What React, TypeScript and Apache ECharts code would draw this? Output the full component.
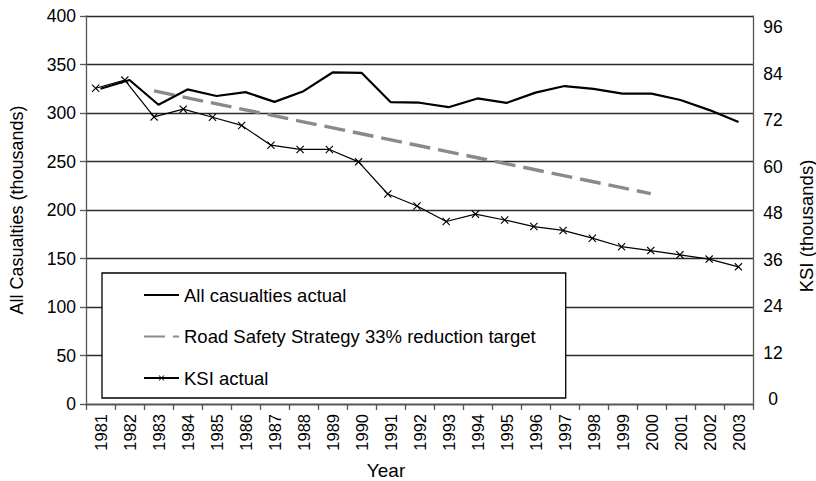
import React, { useEffect, useRef } from "react";
import * as echarts from "echarts";

const years = [
  "1981", "1982", "1983", "1984", "1985", "1986", "1987", "1988", "1989", "1990",
  "1991", "1992", "1993", "1994", "1995", "1996", "1997", "1998", "1999", "2000",
  "2001", "2002", "2003",
];

// All casualties (thousands) - left axis
const allCasualties = [
  325, 334, 308.5, 324.3, 317.5, 321.5, 311.5, 322.5, 341.8, 341.4,
  311.3, 310.6, 306, 315, 310.4, 321, 327.8, 324.8, 320, 320,
  313.4, 303, 290.7,
];

// KSI actual (thousands) - right axis
const ksiActual = [
  80.2, 82.3, 72.8, 74.8, 72.7, 70.6, 65.5, 64.4, 64.4, 61.2,
  52.9, 49.8, 45.8, 47.7, 46.2, 44.5, 43.5, 41.5, 39.3, 38.3,
  37.2, 36.1, 34.1,
];

// Road Safety Strategy 33% reduction target (thousands) - right axis
const target = [
  null, null, 79.5, null, null, null, null, null, null, null,
  null, null, null, null, null, null, null, null, null, 53.0,
  null, null, null,
];

const leftTicks = [0, 50, 100, 150, 200, 250, 300, 350, 400];
const rightTicks = [0, 12, 24, 36, 48, 60, 72, 84, 96];

const seriesNames = [
  "All casualties actual",
  "Road Safety Strategy 33% reduction target",
  "KSI actual",
];

const FONT = "'Liberation Sans', Arial, Helvetica, sans-serif";
const X_SYMBOL =
  "path://M0,1L1,0L5,4L9,0L10,1L6,5L10,9L9,10L5,6L1,10L0,9L4,5Z";

export default function App() {
  const ref = useRef<HTMLDivElement>(null);

  useEffect(() => {
    if (!ref.current) return;
    const chart = echarts.init(ref.current, undefined, { renderer: "svg" });
    const option: any = {
      animation: false,
      backgroundColor: "#ffffff",
      textStyle: { fontFamily: FONT, color: "#000" },
      grid: [
        { left: 81, right: 63, top: 16, bottom: 77, containLabel: false },
        { left: 81, right: 63, top: 27, bottom: 82, containLabel: false },
      ],
      xAxis: [
        {
          type: "category",
          gridIndex: 0,
          data: years,
          boundaryGap: true,
          axisLine: { show: true, lineStyle: { color: "#555", width: 1.3 } },
          axisTick: {
            show: true,
            interval: 0,
            alignWithLabel: false,
            length: 6,
            lineStyle: { color: "#555", width: 1.3 },
          },
          axisLabel: {
            interval: 0,
            rotate: 90,
            margin: 10,
            fontSize: 16.5,
            color: "#000",
            fontFamily: FONT,
          },
          splitLine: { show: false },
        },
        {
          type: "category",
          gridIndex: 1,
          data: years,
          boundaryGap: true,
          show: false,
        },
      ],
      yAxis: [
        {
          type: "value",
          gridIndex: 0,
          position: "left",
          min: leftTicks[0],
          max: leftTicks[leftTicks.length - 1],
          interval: leftTicks[1] - leftTicks[0],
          name: "All Casualties (thousands)",
          nameLocation: "middle",
          nameRotate: 90,
          nameGap: 60,
          nameTextStyle: { fontSize: 18, color: "#000", fontFamily: FONT },
          axisLine: { show: true, lineStyle: { color: "#555", width: 1.3 } },
          axisTick: {
            show: true,
            inside: false,
            length: 6,
            lineStyle: { color: "#555", width: 1.3 },
          },
          axisLabel: { fontSize: 17.5, margin: 10, color: "#000", fontFamily: FONT },
          splitLine: { show: true, lineStyle: { color: "#2a2a2a", width: 1.3 } },
        },
        {
          type: "value",
          gridIndex: 0,
          position: "right",
          min: rightTicks[0],
          max: rightTicks[rightTicks.length - 1],
          interval: rightTicks[1] - rightTicks[0],
          axisLine: { show: true, lineStyle: { color: "#555", width: 1.3 } },
          axisTick: { show: false },
          axisLabel: { show: false },
          splitLine: { show: false },
        },
        {
          type: "value",
          gridIndex: 1,
          position: "right",
          min: rightTicks[0],
          max: rightTicks[rightTicks.length - 1],
          interval: rightTicks[1] - rightTicks[0],
          axisLine: { show: false },
          axisTick: { show: false },
          axisLabel: {
            fontSize: 17.5,
            margin: 20,
            align: "center",
            color: "#000",
            fontFamily: FONT,
          },
          splitLine: { show: false },
        },
      ],
      legend: {
        orient: "vertical",
        left: 102,
        top: 273,
        padding: [12, 30, 10, 41],
        itemWidth: 35,
        itemHeight: 7,
        itemGap: 21.5,
        backgroundColor: "#fff",
        borderColor: "#000",
        borderWidth: 1.3,
        data: [
          { name: seriesNames[0], itemStyle: { opacity: 0 } },
          { name: seriesNames[1], itemStyle: { opacity: 0 } },
          { name: seriesNames[2] },
        ],
        textStyle: { fontSize: 18.5, lineHeight: 20, color: "#000", fontFamily: FONT },
      },
      graphic: [
        {
          type: "text",
          x: 386,
          y: 470,
          style: {
            text: "Year",
            fontSize: 19,
            fontFamily: FONT,
            fill: "#000",
            textAlign: "center",
            textVerticalAlign: "middle",
          },
        },
        {
          type: "text",
          x: 806,
          y: 226,
          rotation: Math.PI / 2,
          style: {
            text: "KSI (thousands)",
            fontSize: 18.5,
            fontFamily: FONT,
            fill: "#000",
            textAlign: "center",
            textVerticalAlign: "middle",
          },
        },
      ],
      series: [
        {
          name: seriesNames[0],
          type: "line",
          xAxisIndex: 0,
          yAxisIndex: 0,
          data: allCasualties,
          symbol: "none",
          lineStyle: { color: "#000", width: 2.2 },
          itemStyle: { color: "#000" },
          z: 3,
        },
        {
          name: seriesNames[1],
          type: "line",
          xAxisIndex: 1,
          yAxisIndex: 2,
          data: target,
          connectNulls: true,
          symbol: "none",
          lineStyle: { color: "#8a8a8a", width: 3.4, type: [21, 8] },
          itemStyle: { color: "#8a8a8a" },
          z: 2,
        },
        {
          name: seriesNames[2],
          type: "line",
          xAxisIndex: 1,
          yAxisIndex: 2,
          data: ksiActual,
          symbol: X_SYMBOL,
          symbolSize: 8,
          showSymbol: true,
          lineStyle: { color: "#000", width: 1.2 },
          itemStyle: { color: "#000" },
          z: 4,
        },
      ],
    };
    chart.setOption(option);
    return () => {
      chart.dispose();
    };
  }, []);

  return (
    <div
      ref={ref}
      style={{ position: "fixed", left: 0, top: 0, width: 816, height: 481 }}
    />
  );
}
